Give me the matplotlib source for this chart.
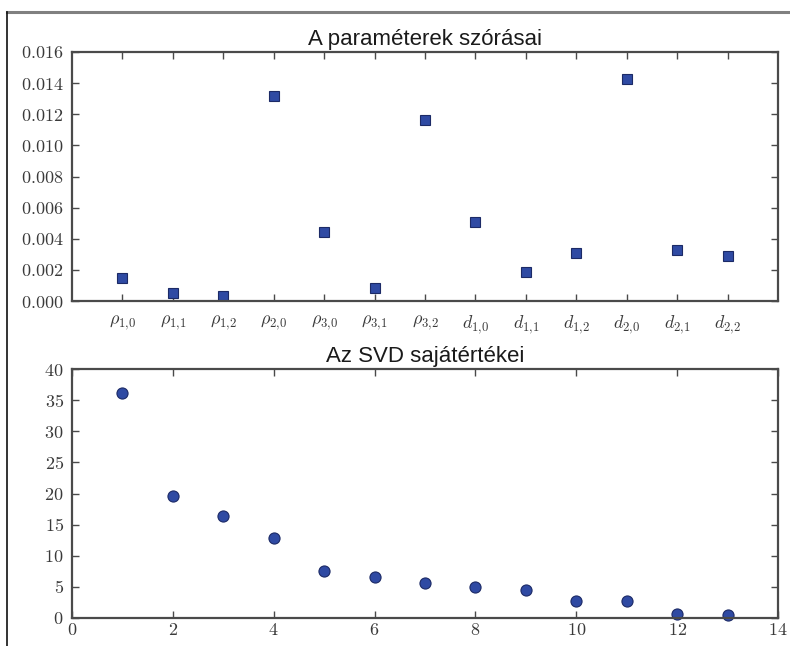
import matplotlib
matplotlib.use("Agg")
import matplotlib.pyplot as plt
from matplotlib.ticker import FuncFormatter
from matplotlib.lines import Line2D

# ---------------------------------------------------------
# DATA
# ---------------------------------------------------------
param_labels = [
    r"$\rho_{1{,}0}$", r"$\rho_{1{,}1}$", r"$\rho_{1{,}2}$", r"$\rho_{2{,}0}$",
    r"$\rho_{3{,}0}$", r"$\rho_{3{,}1}$", r"$\rho_{3{,}2}$", r"$d_{1{,}0}$",
    r"$d_{1{,}1}$", r"$d_{1{,}2}$", r"$d_{2{,}0}$", r"$d_{2{,}1}$", r"$d_{2{,}2}$",
]
param_std = [0.0015, 0.00051, 0.00032, 0.01316, 0.00441, 0.00082, 0.01165,
             0.00506, 0.00184, 0.00308, 0.01427, 0.00326, 0.00287]

svd_index = list(range(1, 14))
svd_values = [36.2, 19.6, 16.4, 12.8, 7.47, 6.55, 5.64, 4.9, 4.5, 2.69, 2.7, 0.7, 0.55]

top_title = "A paraméterek szórásai"
bottom_title = "Az SVD sajátértékei"

# ---------------------------------------------------------
# STYLE
# ---------------------------------------------------------
plt.rcParams["mathtext.fontset"] = "cm"
plt.rcParams["font.family"] = ["Liberation Sans", "DejaVu Sans"]
plt.rcParams["xtick.direction"] = "in"
plt.rcParams["ytick.direction"] = "in"
plt.rcParams["xtick.top"] = True
plt.rcParams["ytick.right"] = True

MARKER_FC = "#2f4aa3"
MARKER_EC = "#1c2a66"
SPINE = "#4a4a4a"
TEXT = "#3a3a3a"


def style_axes(ax):
    for s in ax.spines.values():
        s.set_color(SPINE)
        s.set_linewidth(1.6)
    ax.tick_params(which="major", length=5, width=1, color=SPINE,
                   labelcolor=TEXT, labelsize=13, pad=6)


fig = plt.figure(figsize=(7.9, 6.46), dpi=100)

# top: parameter standard deviations
ax1 = fig.add_axes([72 / 790, 1 - 301 / 646, 706 / 790, 249 / 646])
ax1.plot(range(1, 14), param_std, "s", ms=7.5, mfc=MARKER_FC, mec=MARKER_EC, mew=0.8)
ax1.set_xlim(0, 14)
ax1.set_ylim(0, 0.016)
ax1.set_xticks(range(1, 14))
ax1.set_xticklabels(param_labels)
ax1.set_yticks([i * 0.002 for i in range(9)])
ax1.yaxis.set_major_formatter(FuncFormatter(lambda v, p: r"$%.3f$" % v))
ax1.set_title(top_title, fontsize=16, pad=5, color="#1a1a1a")
style_axes(ax1)
ax1.tick_params(axis="x", labelsize=13, pad=9)

# bottom: SVD singular values
ax2 = fig.add_axes([72 / 790, 1 - 618 / 646, 706 / 790, 249 / 646])
ax2.plot(svd_index, svd_values, "o", ms=8, mfc=MARKER_FC, mec=MARKER_EC, mew=0.8,
         clip_on=False)
ax2.set_xlim(0, 14)
ax2.set_ylim(0, 40)
ax2.set_xticks(range(0, 15, 2))
ax2.set_yticks(range(0, 41, 5))
ax2.xaxis.set_major_formatter(FuncFormatter(lambda v, p: r"$%d$" % v))
ax2.yaxis.set_major_formatter(FuncFormatter(lambda v, p: r"$%d$" % v))
ax2.set_title(bottom_title, fontsize=16, pad=5, color="#1a1a1a")
style_axes(ax2)
ax2.tick_params(axis="x", pad=3)

# frame lines of the original page
fig.add_artist(Line2D([7 / 790, 1], [1 - 12 / 646, 1 - 12 / 646], color="#808080", lw=2.2))
fig.add_artist(Line2D([7 / 790, 7 / 790], [0, 1 - 12 / 646], color="#111111", lw=1.2))

fig.savefig("out.png", dpi=100)
